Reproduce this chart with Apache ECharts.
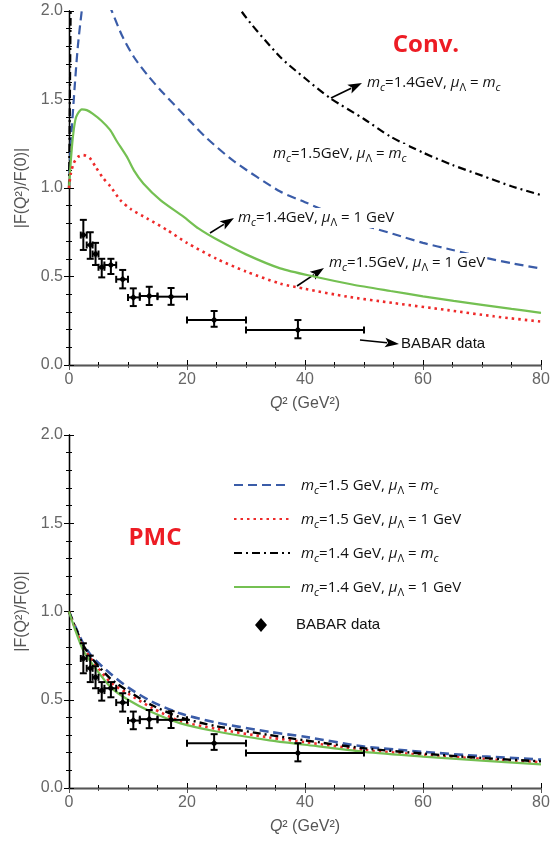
<!DOCTYPE html>
<html><head><meta charset="utf-8">
<script src="https://cdn.jsdelivr.net/npm/echarts@6/dist/echarts.min.js"></script>
<style>html,body{margin:0;padding:0;background:#fff}#c{width:558px;height:842px}</style>
</head><body><div id="c"></div>
<script>
// ---------- Top panel (Conv.) ----------
const convBlueX  = [0,0.15,0.34,1,1.5,2.16,3,4,5,6,7.25,9,11,13.5,16,20.6,23.4,28,35.8,40,45,50,55,60,65,70,75,80];
const convBlueY  = [1.0,1.15,1.27,1.59,1.8,2.0,2.2,2.25,2.2,2.1,2.0,1.86,1.74,1.63,1.535,1.375,1.28,1.15,0.98,0.92,0.85,0.79,0.74,0.69,0.65,0.61,0.575,0.545];
const convBlackX = [0,0.1,0.2,0.3,0.6,1,3,8,15,22,29.2,35.8,40,44.3,50,54.5,60,65,70,75,80];
const convBlackY = [1.0,1.3,1.7,2.05,2.6,3.0,3.6,3.5,2.9,2.4,2.0,1.74,1.62,1.507,1.39,1.29,1.2,1.13,1.07,1.01,0.96];
const convGreenX = [0,0.3,0.7,1.2,2.17,3,4,5.5,6.96,8,9.8,11,12.6,15.5,19.4,22,25,30,35.8,41.5,48,54.5,60,65.2,70,75,80];
const convGreenY = [1.0,1.15,1.3,1.4,1.444,1.44,1.42,1.38,1.328,1.27,1.177,1.1,1.026,0.932,0.838,0.77,0.71,0.625,0.546,0.50,0.455,0.418,0.388,0.362,0.34,0.317,0.295];
const convRedX   = [0,0.3,0.8,1.5,2.4,3.5,4.5,5.8,7,8.7,10.5,13.2,16.6,20,25,30,35.8,40,47.2,55,64.2,72,80];
const convRedY   = [1.0,1.08,1.14,1.175,1.186,1.17,1.12,1.055,1.01,0.932,0.88,0.829,0.763,0.69,0.6,0.528,0.46,0.43,0.386,0.35,0.31,0.275,0.245];

// ---------- Bottom panel (PMC) ----------
const pmcX      = [0,1,2.4,4,7,10,14,18.9,25,34,40,50,60,70,80];
const pmcBlueY  = [1.0,0.92,0.82,0.74,0.649,0.57,0.49,0.422,0.37,0.318,0.29,0.235,0.205,0.18,0.161];
const pmcBlackY = [1.0,0.915,0.81,0.73,0.62,0.55,0.47,0.40,0.35,0.30,0.27,0.225,0.195,0.17,0.151];
const pmcRedY   = [1.0,0.91,0.80,0.72,0.60,0.535,0.455,0.378,0.335,0.286,0.26,0.216,0.188,0.165,0.146];
const pmcGreenY = [1.0,0.90,0.78,0.70,0.573,0.50,0.43,0.366,0.32,0.27,0.245,0.205,0.178,0.155,0.134];

// ---------- BABAR data ----------
const babarX   = [2.43,3.6,4.5,5.55,7.1,9.1,10.9,13.6,17.3,24.6,38.8];
const babarY   = [0.734,0.678,0.627,0.552,0.565,0.484,0.382,0.39,0.386,0.254,0.198];
const babarYlo = [0.65,0.60,0.565,0.495,0.514,0.433,0.333,0.339,0.34,0.216,0.151];
const babarYhi = [0.82,0.75,0.69,0.60,0.60,0.537,0.433,0.442,0.435,0.305,0.254];
const babarXlo = [2,3,4,5,6,8,10,12,15,20,30];
const babarXhi = [3,4,5,6,8,10,12,15,20,30,50];

const xTicks = [0,20,40,60,80];
const yTicks = [0.0,0.5,1.0,1.5,2.0];

const BLUE='#3a5ca8', RED='#ee2a2a', GREEN='#74c052', BLACK='#000';
const DASH=[9,5], DOT=[2.5,4], DASHDOT=[8,4,2,4];

const zip = (xs, ys) => xs.map((x,i)=>[x, ys[i]]);
const babarData = babarX.map((x,i)=>[x, babarY[i], babarXlo[i], babarXhi[i], babarYlo[i], babarYhi[i]]);

function errRender(params, api){
  const x=api.value(0), y=api.value(1);
  const c=api.coord([x,y]);
  const xl=api.coord([api.value(2),y])[0], xh=api.coord([api.value(3),y])[0];
  const yl=api.coord([x,api.value(4)])[1], yh=api.coord([x,api.value(5)])[1];
  const cap=3.5, st={stroke:'#000', lineWidth:2};
  return {type:'group', children:[
    {type:'line', shape:{x1:xl,y1:c[1],x2:xh,y2:c[1]}, style:st},
    {type:'line', shape:{x1:xl,y1:c[1]-cap,x2:xl,y2:c[1]+cap}, style:st},
    {type:'line', shape:{x1:xh,y1:c[1]-cap,x2:xh,y2:c[1]+cap}, style:st},
    {type:'line', shape:{x1:c[0],y1:yl,x2:c[0],y2:yh}, style:st},
    {type:'line', shape:{x1:c[0]-cap,y1:yl,x2:c[0]+cap,y2:yl}, style:st},
    {type:'line', shape:{x1:c[0]-cap,y1:yh,x2:c[0]+cap,y2:yh}, style:st},
    {type:'polygon', shape:{points:[[c[0],c[1]-3.5],[c[0]+3.5,c[1]],[c[0],c[1]+3.5],[c[0]-3.5,c[1]]]}, style:{fill:'#000'}}
  ]};
}

const tickFont = {fontSize:16, color:'#666', fontFamily:'Liberation Sans'};
function xAxes(gi){
  return [
    {type:'value', gridIndex:gi, min:0, max:80, interval:20, position:'bottom',
     axisLine:{lineStyle:{color:'#000', width:1.3}},
     axisTick:{inside:true, length:5, lineStyle:{color:'#000'}},
     minorTick:{show:true, splitNumber:4, length:3, lineStyle:{color:'#000'}},
     splitLine:{show:false},
     axisLabel:Object.assign({margin:7, formatter:v=>xTicks.includes(v)?String(v):''}, tickFont),
     name:'{q|Q}² (GeV²)', nameLocation:'middle', nameGap:31,
     nameTextStyle:{fontSize:16, color:'#555', fontFamily:'Liberation Sans', rich:{q:{fontStyle:'italic', fontSize:16, color:'#555', fontFamily:'Liberation Sans'}}}},
    {type:'value', gridIndex:gi, min:0, max:80, interval:20, position:'top',
     axisLine:{lineStyle:{color:'#555', width:1.3}},
     axisTick:{inside:true, length:5, lineStyle:{color:'#555'}},
     minorTick:{show:true, splitNumber:4, length:3, lineStyle:{color:'#555'}},
     splitLine:{show:false}, axisLabel:{show:false}}
  ];
}
function yAxes(gi){
  return [
    {type:'value', gridIndex:gi, min:0, max:2, interval:0.5, position:'left',
     axisLine:{show:true, lineStyle:{color:'#000', width:1.3}},
     axisTick:{show:true, inside:true, length:5, lineStyle:{color:'#000'}},
     minorTick:{show:true, splitNumber:5, length:3, lineStyle:{color:'#000'}},
     splitLine:{show:false},
     axisLabel:Object.assign({margin:6, formatter:v=>v.toFixed(1)}, tickFont),
     name:'|F(Q²)/F(0)|', nameLocation:'middle', nameGap:36,
     nameTextStyle:{fontSize:16, color:'#555', fontFamily:'Liberation Sans'}},
    {type:'value', gridIndex:gi, min:0, max:2, interval:0.5, position:'right',
     axisLine:{show:true, lineStyle:{color:'#000', width:1.3}},
     axisTick:{show:true, inside:true, length:5, lineStyle:{color:'#000'}},
     minorTick:{show:true, splitNumber:5, length:3, lineStyle:{color:'#000'}},
     splitLine:{show:false}, axisLabel:{show:false}}
  ];
}

function lineSeries(xi, yi, data, color, type, w){
  return {type:'line', xAxisIndex:xi, yAxisIndex:yi, data, showSymbol:false, symbol:'none',
    smooth:0.25, clip:true, silent:true, z:3,
    lineStyle:{color, width:w||2.2, type}};
}

const richLab = {
  n:{fontFamily:'Open Sans', fontSize:15, fill:'#111'},
  i:{fontFamily:'Open Sans', fontSize:15, fontStyle:'italic', fill:'#111'},
  s:{fontFamily:'Open Sans', fontSize:11, fontStyle:'italic', fill:'#111', padding:[9,0,0,0]},
  u:{fontFamily:'Open Sans', fontSize:11, fill:'#111', padding:[9,0,0,0]}
};
function lab(mc, mu, sp){
  const g = sp ? ' GeV' : 'GeV';
  return '{i|m}{s|c}{n|=' + mc + g + ', }{i|μ}{u|Λ}{n| = }' + (mu ? '{i|m}{s|c}' : '{n|1 GeV}');
}
function textEl(x, y, text, bg){
  const st = {text, x, y, rich:richLab, fill:'#111', font:'15px "Open Sans"', align:'left', verticalAlign:'middle'};
  if (bg) { st.backgroundColor='#fff'; st.padding=[0,2]; }
  return {type:'text', z:50, style:st};
}
function arrow(x1,y1,x2,y2){
  const L=14, W=4.8;
  const dx=x2-x1, dy=y2-y1, d=Math.hypot(dx,dy), ux=dx/d, uy=dy/d;
  const bx=x2-ux*L, by=y2-uy*L;
  return {type:'group', z:50, children:[
    {type:'line', shape:{x1,y1,x2:bx+ux*2,y2:by+uy*2}, style:{stroke:'#000', lineWidth:1.6}},
    {type:'polygon', shape:{points:[[x2,y2],[bx-uy*W,by+ux*W],[bx+ux*3,by+uy*3],[bx+uy*W,by-ux*W]]}, style:{fill:'#000'}}
  ]};
}
function legLine(y, color, dash, w){
  return {type:'line', z:50, shape:{x1:234,y1:y,x2:290,y2:y}, style:{stroke:color, lineWidth:w||1.8, lineDash:dash}};
}

const option = {
  animation:false,
  backgroundColor:'#fff',
  grid:[
    {left:69, top:11, width:472, height:354},
    {left:69, top:435, width:472, height:353}
  ],
  xAxis:[...xAxes(0), ...xAxes(1)],
  yAxis:[...yAxes(0), ...yAxes(1)],
  series:[
    lineSeries(0,0, zip(convBlueX, convBlueY), BLUE, DASH),
    lineSeries(0,0, zip(convBlackX, convBlackY), BLACK, DASHDOT),
    lineSeries(0,0, zip(convGreenX, convGreenY), GREEN, 'solid'),
    lineSeries(0,0, zip(convRedX, convRedY), RED, DOT, 2.6),
    {type:'custom', xAxisIndex:0, yAxisIndex:0, data:babarData, renderItem:errRender, encode:{x:0,y:1}, z:5, silent:true},
    lineSeries(2,2, zip(pmcX, pmcBlueY), BLUE, DASH, 2.6),
    lineSeries(2,2, zip(pmcX, pmcRedY), RED, DOT, 2.6),
    lineSeries(2,2, zip(pmcX, pmcBlackY), BLACK, DASHDOT, 2.4),
    lineSeries(2,2, zip(pmcX, pmcGreenY), GREEN, 'solid', 2.2),
    {type:'custom', xAxisIndex:2, yAxisIndex:2, data:babarData, renderItem:errRender, encode:{x:0,y:1}, z:5, silent:true}
  ],
  graphic:[
    {type:'text', z:50, style:{text:'Conv.', x:426, y:45, align:'center', verticalAlign:'middle', font:'bold 24px "Open Sans"', fill:'#ed1c24'}},
    {type:'text', z:50, style:{text:'PMC', x:155, y:538, align:'center', verticalAlign:'middle', font:'bold 24px "Open Sans"', fill:'#ed1c24'}},
    textEl(365, 83, lab('1.4', true), true),
    textEl(271, 154, lab('1.5', true), true),
    textEl(236, 218, lab('1.4', false), true),
    textEl(327, 263, lab('1.5', false), true),
    {type:'text', z:50, style:{text:'BABAR data', x:401, y:344, align:'left', verticalAlign:'middle', font:'15px "Liberation Sans"', fill:'#111'}},
    arrow(331, 98, 362, 83),
    arrow(210, 233, 234, 218),
    arrow(297, 286, 324, 268),
    arrow(360, 340, 399, 344),
    legLine(485, BLUE, DASH),
    legLine(519, RED, DOT, 2),
    legLine(553, BLACK, DASHDOT),
    legLine(587, GREEN, null, 2),
    textEl(301, 486, lab('1.5', true, true), false),
    textEl(301, 520, lab('1.5', false, true), false),
    textEl(301, 554, lab('1.4', true, true), false),
    textEl(301, 588, lab('1.4', false, true), false),
    {type:'polygon', z:50, shape:{points:[[261,618],[267,625],[261,632],[255,625]]}, style:{fill:'#000'}},
    {type:'text', z:50, style:{text:'BABAR data', x:296, y:625, align:'left', verticalAlign:'middle', font:'15px "Liberation Sans"', fill:'#111'}}
  ]
};
const chart = echarts.init(document.getElementById('c'), null, {renderer:'canvas'});
chart.setOption(option);
</script></body></html>
